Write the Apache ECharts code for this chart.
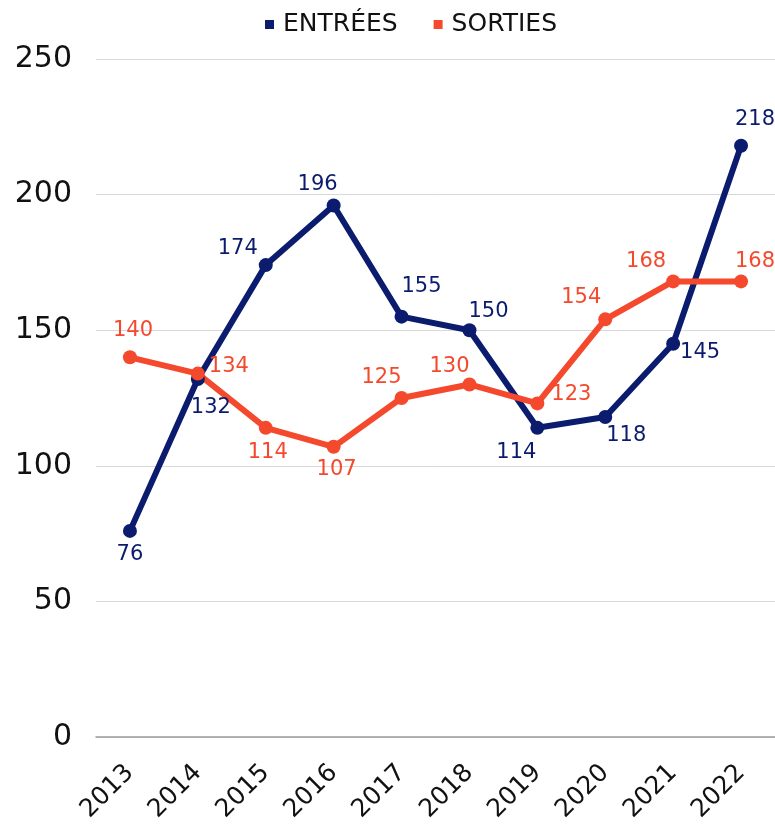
<!DOCTYPE html>
<html><head><meta charset="utf-8">
<script src="https://cdn.jsdelivr.net/npm/echarts@6/dist/echarts.min.js"></script>
<style>html,body{margin:0;padding:0;background:#fff}#c{width:775px;height:827px}</style>
</head><body><div id="c"></div>
<script>
const years = ['2013','2014','2015','2016','2017','2018','2019','2020','2021','2022'];
const entrees = [76,132,174,196,155,150,114,118,145,218];
const sorties = [140,134,114,107,125,130,123,154,168,168];
const yTicks = [0,50,100,150,200,250];

// label offsets (style, not data)
const entOff = [[0,24],[13,29],[-28,-17],[-16,-21],[20,-30],[19,-19],[-21,25],[21,19],[27,9],[14,-26]];
const sorOff = [[3,-27],[31,-7],[2,25],[3,23],[-20,-20],[-20,-18],[34,-9],[-24,-22],[-27,-20],[14,-20]];

const NAVY = '#0B1C6E', ORANGE = '#F4492D';
const FONT = 'DejaVu Sans';

function mk(vals, offs){
  return vals.map((v,i)=>({value:v, label:{offset:offs[i]}}));
}
const chart = echarts.init(document.getElementById('c'));
chart.setOption({
  animation:false,
  legend:{
    top:7, left:260, itemWidth:9, itemHeight:9, itemGap:36, icon:'rect',
    textStyle:{fontFamily:FONT, fontSize:25, color:'#111', padding:[0,0,0,4]},
    data:['ENTRÉES','SORTIES']
  },
  grid:{left:96, right:0, top:59, bottom:90},
  xAxis:{
    type:'category', data:years, boundaryGap:true,
    axisLine:{lineStyle:{color:'#9a9a9a', width:1.5}},
    axisTick:{show:false},
    axisLabel:{rotate:45, fontFamily:FONT, fontSize:25, color:'#111', margin:32, interval:0}
  },
  yAxis:{
    type:'value', min:yTicks[0], max:yTicks[yTicks.length-1], interval:50,
    axisLine:{show:false}, axisTick:{show:false},
    splitLine:{lineStyle:{color:'#d9d9d9', width:1}},
    axisLabel:{fontFamily:FONT, fontSize:30, color:'#111', margin:24}
  },
  series:[
    {name:'ENTRÉES', type:'line', data:mk(entrees, entOff), color:NAVY,
     lineStyle:{width:6, color:NAVY}, symbol:'circle', symbolSize:14,
     itemStyle:{color:NAVY},
     label:{show:true, position:'inside', fontFamily:FONT, fontSize:21, color:NAVY, align:'center', verticalAlign:'middle'}},
    {name:'SORTIES', type:'line', data:mk(sorties, sorOff), color:ORANGE,
     lineStyle:{width:6, color:ORANGE}, symbol:'circle', symbolSize:14,
     itemStyle:{color:ORANGE},
     label:{show:true, position:'inside', fontFamily:FONT, fontSize:21, color:ORANGE, align:'center', verticalAlign:'middle'}}
  ]
});
</script></body></html>
